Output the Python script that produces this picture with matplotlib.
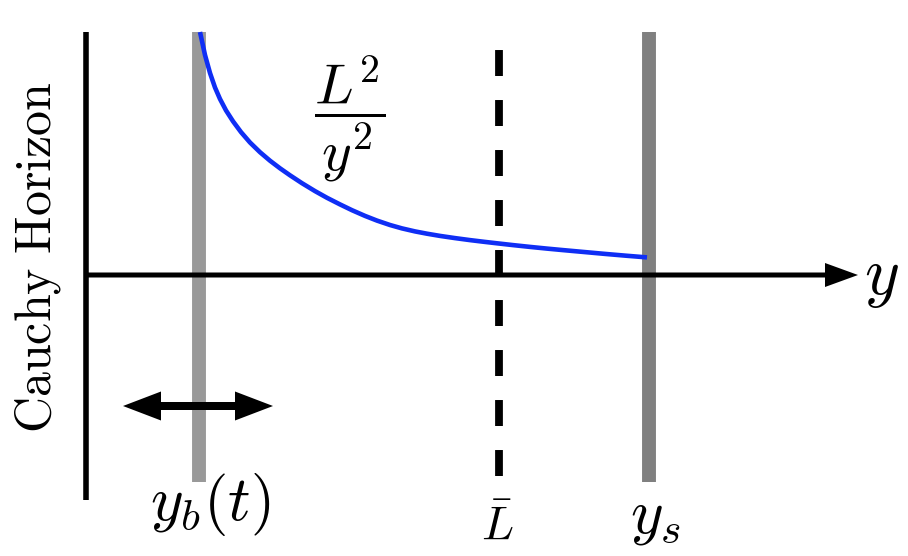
import matplotlib
matplotlib.use("Agg")
import matplotlib.pyplot as plt

plt.rcParams['mathtext.fontset'] = 'cm'
plt.rcParams['lines.scale_dashes'] = False

# ---- data (diagram coordinates) ----
cauchy_x = 0.0
cauchy_span = [-2.25, 2.43]
y_b = 1.13
L_bar = 4.13
y_s = 5.63
bar_span = [-2.07, 2.43]
dash_span = [-2.01, 2.25]
axis_end = 7.72
drift_range = [0.37, 1.87]
drift_y = -1.31

curve_x = [1.14, 1.19, 1.24, 1.29, 1.34, 1.40, 1.47, 1.55, 1.64, 1.74,
           1.84, 1.94, 2.04, 2.16, 2.29, 2.41, 2.54, 2.66, 2.79, 2.91,
           3.04, 3.16, 3.29, 3.41, 3.54, 3.69, 3.84, 3.98, 4.11, 4.27,
           4.44, 4.61, 4.77, 4.98, 5.19, 5.40, 5.61]
curve_y = [2.43, 2.20, 2.02, 1.875, 1.76, 1.646, 1.537, 1.429, 1.325, 1.228,
           1.143, 1.067, 0.997, 0.918, 0.839, 0.772, 0.706, 0.648, 0.591, 0.544,
           0.500, 0.466, 0.436, 0.413, 0.391, 0.369, 0.349, 0.332, 0.317, 0.299,
           0.281, 0.264, 0.249, 0.230, 0.211, 0.193, 0.176]

fig = plt.figure(figsize=(9.08, 5.56), dpi=100)
ax = fig.add_axes([0, 0, 1, 1])
ax.set_xlim(-0.86, 8.22)
ax.set_ylim(-2.81, 2.75)
ax.axis('off')

# Cauchy horizon line
ax.plot([cauchy_x, cauchy_x], cauchy_span, color='black', lw=4.0,
        solid_capstyle='butt', zorder=2)
# gray bars
ax.plot([y_b, y_b], bar_span, color='#999999', lw=10.0,
        solid_capstyle='butt', zorder=1)
ax.plot([y_s, y_s], bar_span, color='#808080', lw=10.0,
        solid_capstyle='butt', zorder=1)
# dashed L bar
ax.plot([L_bar, L_bar], dash_span, color='black', lw=5.6,
        linestyle=(0, (18.7, 17.3)), dash_capstyle='butt', zorder=2)

# blue curve
ax.plot(curve_x, curve_y, color='#0f2ef5', lw=3.3, zorder=4,
        solid_capstyle='butt', solid_joinstyle='round')

# y axis arrow
ax.arrow(cauchy_x, 0, axis_end - cauchy_x, 0, width=0.05, head_width=0.24,
         head_length=0.33, length_includes_head=True, fc='black', ec='none',
         zorder=5)

# double arrow
mid = 0.5 * (drift_range[0] + drift_range[1])
for end in drift_range:
    ax.arrow(mid, drift_y, end - mid, 0, width=0.08, head_width=0.29,
             head_length=0.38, length_includes_head=True, fc='black',
             ec='none', zorder=5)

# labels
ax.text(1.24, -2.30, r'$y_b(t)$', fontsize=45, ha='center', va='center')
ax.text(4.11, -2.51, r'$\bar{L}$', fontsize=34, ha='center', va='center')
ax.text(5.69, -2.42, r'$y_s$', fontsize=45, ha='center', va='center')
ax.text(7.95, -0.02, r'$y$', fontsize=48, ha='center', va='center')
ax.text(2.64, 1.56, r'$\dfrac{L^2}{y^2}$', fontsize=41, ha='center',
        va='center')
ax.text(-0.48, 0.18, r'$\mathrm{Cauchy\ Horizon}$', fontsize=36,
        rotation=90, ha='center', va='center')

fig.savefig('out.png', dpi=100)
